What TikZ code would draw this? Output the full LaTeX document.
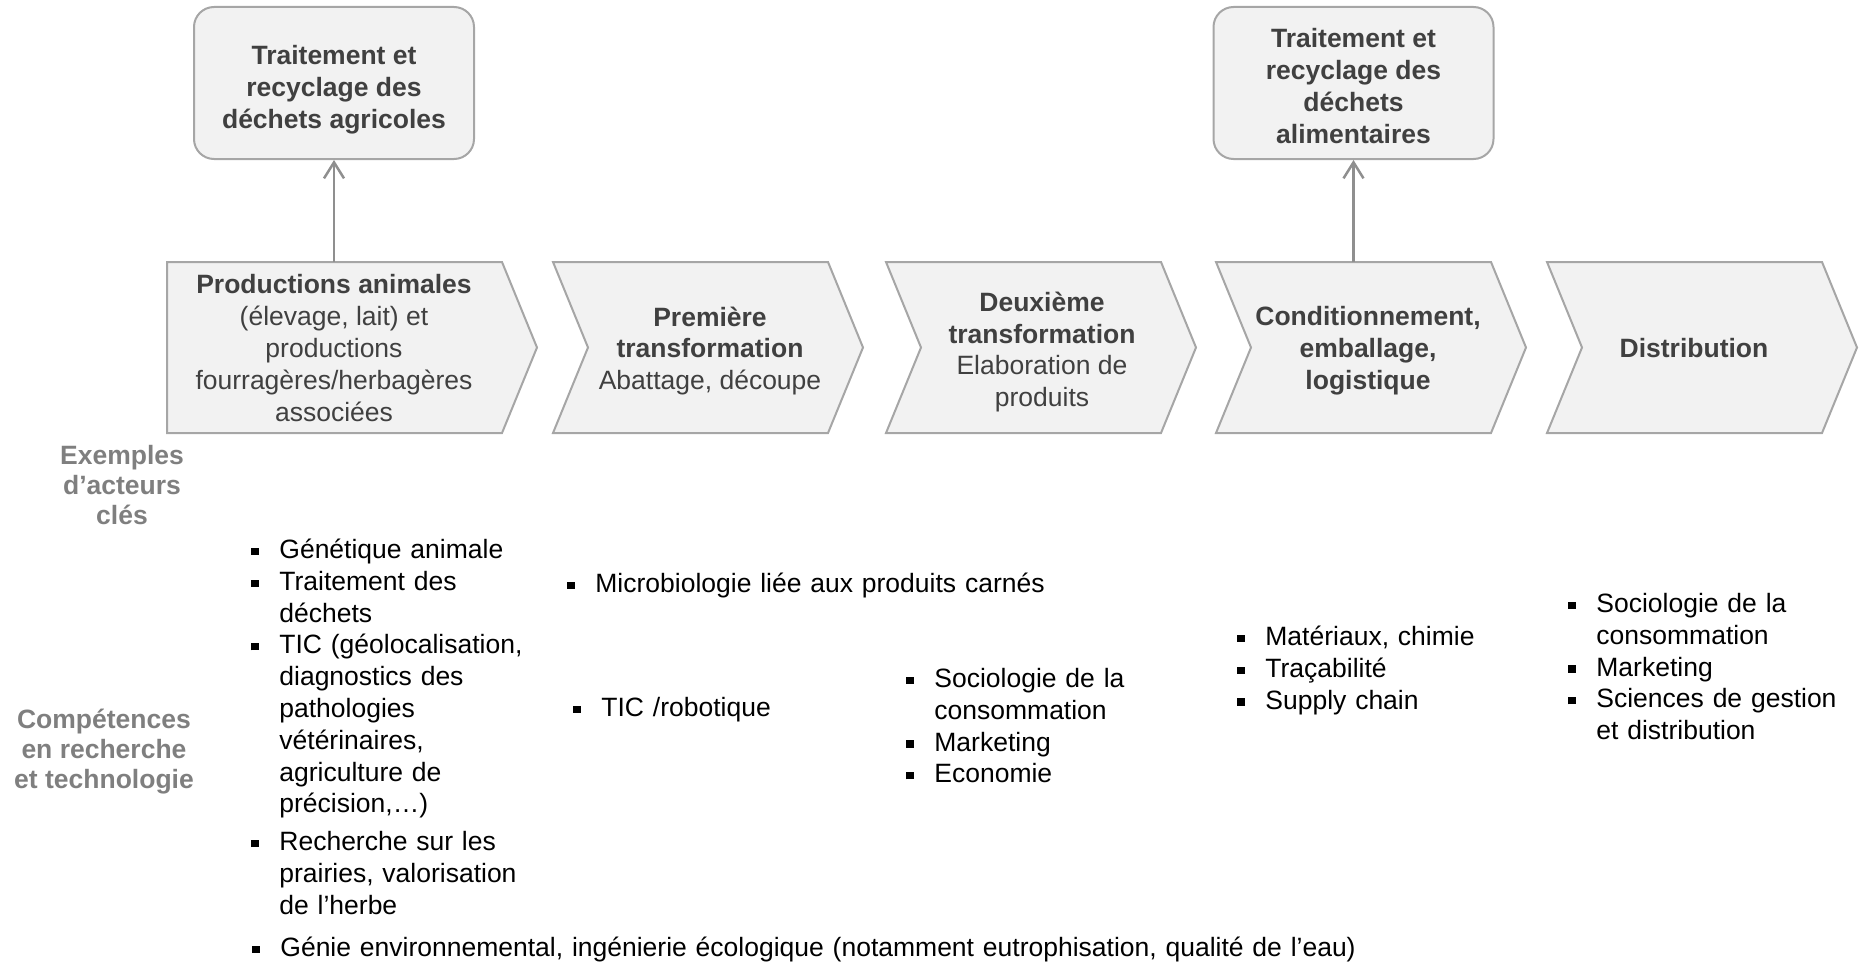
\documentclass[tikz,border=0pt]{standalone}
\usepackage{fontspec}
\setmainfont{Liberation Sans}
\usetikzlibrary{arrows.meta}

\definecolor{fond}{HTML}{F2F2F2}
\definecolor{cadre}{HTML}{A6A6A6}
\definecolor{texte}{HTML}{404040}
\definecolor{titre}{HTML}{7F7F7F}
\definecolor{gris}{HTML}{8F8F8F}

\newcommand\puce{\noindent\hangindent=14pt\hangafter=1\makebox[14pt][l]{\raisebox{1.8pt}{\rule{3.6pt}{3.6pt}}}}

\begin{document}
\fontsize{13.25pt}{15.9pt}\selectfont
\begin{tikzpicture}[x=0.5pt, y=-0.5pt,
  etape/.style={fill=fond, draw=cadre, line width=1pt},
  bloc/.style={etape, rounded corners=10pt, minimum width=140pt, minimum height=76pt},
  intitule/.style={align=center, text=texte},
  rubrique/.style={align=center, text=titre, font=\fontsize{13.25pt}{15pt}\selectfont\bfseries},
  liste/.style={anchor=base west, inner sep=0pt, text width=#1, align=left},
  fleche/.style={draw=gris, line width=1.25pt, -{Straight Barb[length=8pt,width=10pt]}}]
\useasboundingbox (0,0) rectangle (1863,963);

% chaine de valeur
\draw[etape] (167,262) -- (502,262) -- (537,347.5) -- (502,433) -- (167,433) -- cycle;
\foreach \g in {553,886,1216,1547}
  \draw[etape] (\g,262) -- (\g+275,262) -- (\g+310,347.5) -- (\g+275,433) -- (\g,433) -- (\g+35,347.5) -- cycle;

\node[intitule] (prod) at (334,348) {\textbf{Productions animales}\\(élevage, lait) et\\productions\\fourragères/herbagères\\associées};
\node[intitule] (prem) at (710,351) {\textbf{Première}\\\textbf{transformation}\\Abattage, découpe};
\node[intitule] (deux) at (1042,352) {\textbf{Deuxième}\\\textbf{transformation}\\Elaboration de\\produits};
\node[intitule, font=\bfseries] (cond) at (1368,351) {Conditionnement,\\emballage,\\logistique};
\node[intitule, font=\bfseries] (distr) at (1694,348) {Distribution};

% dechets
\node[bloc] (dechA) at (334,83) {};
\node[bloc] (dechB) at (1353.5,83) {};
\node[intitule, font=\bfseries] (txtA) at (334,89.5) {Traitement et\\recyclage des\\déchets agricoles};
\node[intitule, font=\bfseries] (txtB) at (1353.5,86) {Traitement et\\recyclage des\\déchets\\alimentaires};
\coordinate (hautA) at (334,262);
\coordinate (hautB) at (1353.5,262);
\draw[fleche] (hautA) -- (dechA.south);
\draw[fleche] (hautB) -- (dechB.south);

% rubriques
\node[rubrique] (acteurs) at (122,485) {Exemples\\d’acteurs\\clés};
\node[rubrique] (compet) at (104,752) {Compétences\\en recherche\\et technologie};

% competences
\node[liste=220pt] (col1) at (251,558.5) {\puce Génétique animale\par\puce Traitement des\newline déchets\par\puce TIC (géolocalisation,\newline diagnostics des\newline pathologies\newline vétérinaires,\newline agriculture de\newline précision,…)\par\vspace{3pt}\puce Recherche sur les\newline prairies, valorisation\newline de l’herbe\par};
\node[liste=300pt] (col2a) at (567,592.5) {\puce Microbiologie liée aux produits carnés\par};
\node[liste=150pt] (col2b) at (573,716.5) {\puce TIC /robotique\par};
\node[liste=150pt] (col3) at (906,687.5) {\puce Sociologie de la\newline consommation\par\puce Marketing\par\puce Economie\par};
\node[liste=150pt] (col4) at (1237,645.5) {\puce Matériaux, chimie\par\puce Traçabilité\par\puce Supply chain\par};
\node[liste=150pt] (col5) at (1568,612.5) {\puce Sociologie de la\newline consommation\par\puce Marketing\par\puce Sciences de gestion\newline et distribution\par};
\node[liste=600pt] (envir) at (252,956.5) {\puce Génie environnemental, ingénierie écologique (notamment eutrophisation, qualité de l’eau)\par};
\end{tikzpicture}
\end{document}
